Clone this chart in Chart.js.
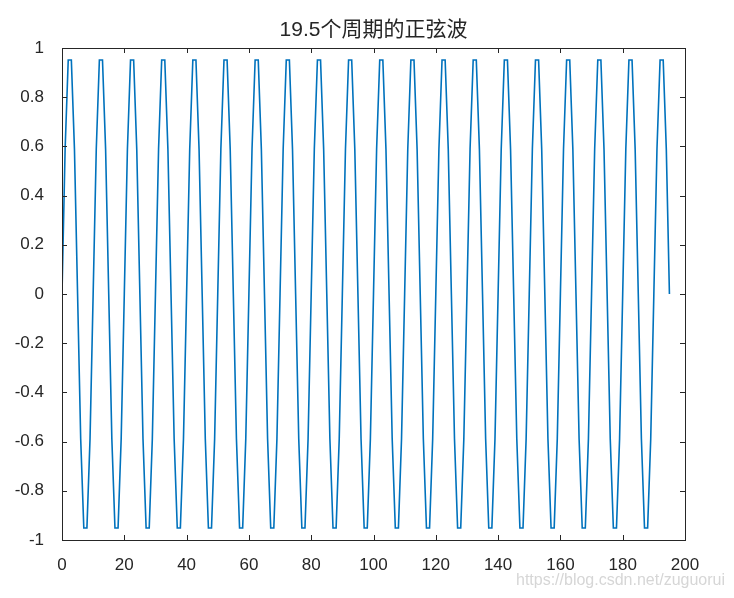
<!DOCTYPE html>
<html>
<head>
<meta charset="utf-8">
<script src="https://cdn.jsdelivr.net/npm/chart.js@4/dist/chart.umd.min.js"></script>
<style>
  body { margin: 0; background: #fff; }
</style>
</head>
<body>
<canvas id="chart" width="734" height="598"></canvas>
<script>
const chartTitle = "19.5个周期的正弦波";
const watermark = "https://blog.csdn.net/zuguorui";

// sample values, one period (10 samples) per line
const sineValues = [
  0, 0.588, 0.951, 0.951, 0.588, 0, -0.588, -0.951, -0.951, -0.588,
  0, 0.588, 0.951, 0.951, 0.588, 0, -0.588, -0.951, -0.951, -0.588,
  0, 0.588, 0.951, 0.951, 0.588, 0, -0.588, -0.951, -0.951, -0.588,
  0, 0.588, 0.951, 0.951, 0.588, 0, -0.588, -0.951, -0.951, -0.588,
  0, 0.588, 0.951, 0.951, 0.588, 0, -0.588, -0.951, -0.951, -0.588,
  0, 0.588, 0.951, 0.951, 0.588, 0, -0.588, -0.951, -0.951, -0.588,
  0, 0.588, 0.951, 0.951, 0.588, 0, -0.588, -0.951, -0.951, -0.588,
  0, 0.588, 0.951, 0.951, 0.588, 0, -0.588, -0.951, -0.951, -0.588,
  0, 0.588, 0.951, 0.951, 0.588, 0, -0.588, -0.951, -0.951, -0.588,
  0, 0.588, 0.951, 0.951, 0.588, 0, -0.588, -0.951, -0.951, -0.588,
  0, 0.588, 0.951, 0.951, 0.588, 0, -0.588, -0.951, -0.951, -0.588,
  0, 0.588, 0.951, 0.951, 0.588, 0, -0.588, -0.951, -0.951, -0.588,
  0, 0.588, 0.951, 0.951, 0.588, 0, -0.588, -0.951, -0.951, -0.588,
  0, 0.588, 0.951, 0.951, 0.588, 0, -0.588, -0.951, -0.951, -0.588,
  0, 0.588, 0.951, 0.951, 0.588, 0, -0.588, -0.951, -0.951, -0.588,
  0, 0.588, 0.951, 0.951, 0.588, 0, -0.588, -0.951, -0.951, -0.588,
  0, 0.588, 0.951, 0.951, 0.588, 0, -0.588, -0.951, -0.951, -0.588,
  0, 0.588, 0.951, 0.951, 0.588, 0, -0.588, -0.951, -0.951, -0.588,
  0, 0.588, 0.951, 0.951, 0.588, 0, -0.588, -0.951, -0.951, -0.588,
  0, 0.588, 0.951, 0.951, 0.588, 0
];

const xRange = [0, 200];
const yRange = [-1, 1];

const axisColor = "#262626";
const fontFamily = "'Liberation Sans', Arial, 'Noto Sans CJK SC', sans-serif";

// box around plot + inward ticks on all four sides, like matlab
const boxPlugin = {
  id: "box",
  afterDraw(chart) {
    const { ctx, chartArea: a, scales } = chart;
    ctx.save();
    ctx.strokeStyle = axisColor;
    ctx.lineWidth = 1;
    ctx.strokeRect(a.left + 0.5, a.top + 0.5, a.right - a.left, a.bottom - a.top);
    ctx.beginPath();
    scales.x.ticks.forEach((t) => {
      const px = Math.round(scales.x.getPixelForValue(t.value)) + 0.5;
      ctx.moveTo(px, a.bottom);
      ctx.lineTo(px, a.bottom - 5);
      ctx.moveTo(px, a.top);
      ctx.lineTo(px, a.top + 5);
    });
    scales.y.ticks.forEach((t) => {
      const py = Math.round(scales.y.getPixelForValue(t.value)) + 0.5;
      ctx.moveTo(a.left, py);
      ctx.lineTo(a.left + 5, py);
      ctx.moveTo(a.right, py);
      ctx.lineTo(a.right - 5, py);
    });
    ctx.stroke();

    // title centred over the plot area
    ctx.fillStyle = axisColor;
    ctx.font = "21px " + fontFamily;
    ctx.textAlign = "center";
    ctx.textBaseline = "middle";
    ctx.fillText(chartTitle, (a.left + a.right) / 2, 30);

    ctx.fillStyle = "#d6d6d6";
    ctx.font = "16px " + fontFamily;
    ctx.textAlign = "right";
    ctx.fillText(watermark, 725, 581);
    ctx.restore();
  },
};

new Chart(document.getElementById("chart").getContext("2d"), {
  type: "line",
  data: {
    datasets: [
      {
        data: sineValues.map((v, i) => ({ x: i, y: v })),
        borderColor: "#0072BD",
        borderWidth: 1.6,
        pointRadius: 0,
        tension: 0,
        fill: false,
      },
    ],
  },
  options: {
    responsive: false,
    animation: false,
    layout: { padding: { right: 49, left: 0, bottom: 0, top: 48 } },
    plugins: {
      legend: { display: false },
      tooltip: { enabled: false },
      title: { display: false },
    },
    scales: {
      x: {
        type: "linear",
        min: xRange[0],
        max: xRange[1],
        grid: { display: false },
        border: { display: false },
        ticks: {
          stepSize: 20,
          color: axisColor,
          padding: 7,
          font: { family: fontFamily, size: 17 },
        },
        afterFit: (s) => { s.height = 58; },
      },
      y: {
        min: yRange[0],
        max: yRange[1],
        grid: { display: false },
        border: { display: false },
        ticks: {
          stepSize: 0.2,
          color: axisColor,
          padding: 10,
          font: { family: fontFamily, size: 17 },
          callback: (v) => String(Number(v.toFixed(1))),
        },
        afterFit: (s) => { s.width = 62; },
      },
    },
  },
  plugins: [boxPlugin],
});
</script>
</body>
</html>
